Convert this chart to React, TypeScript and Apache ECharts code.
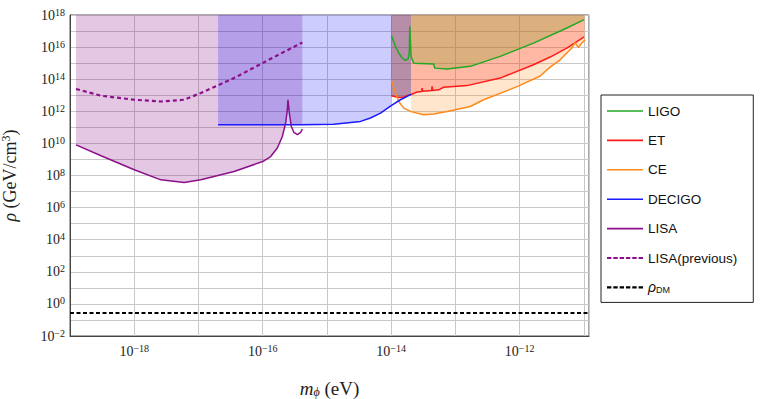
import React, { useEffect, useRef } from 'react';
import * as echarts from 'echarts';

// All values are log10(m_phi / eV), log10(rho / (GeV/cm^3))
const X_MIN = -19;
const X_MAX = -10.92;
const Y_MIN = -2;
const Y_MAX = 18;

// tick labels (exponents shown as 10^n)
const X_LABEL_EXP = [-18, -16, -14, -12];
const Y_LABEL_EXP = [-2, 0, 2, 4, 6, 8, 10, 12, 14, 16, 18];

// region boundaries (log10 m)
const DECIGO_FILL_END = -14.0;
const GROUND_FILL_START = -13.69;

const LIGO: [number, number][] = [
  [-13.995, 16.71], [-13.933, 16.04], [-13.882, 15.63], [-13.829, 15.32], [-13.778, 15.17],
  [-13.736, 15.26], [-13.718, 15.63], [-13.71, 17.29], [-13.69, 15.42], [-13.649, 15.0],
  [-13.338, 14.95], [-13.322, 14.69], [-13.13, 14.63], [-12.768, 14.8], [-12.302, 15.42],
  [-11.784, 16.25], [-11.265, 17.19], [-10.996, 17.71],
];

const ET: [number, number][] = [
  [-14.0, 12.97], [-13.9, 12.88], [-13.82, 12.86], [-13.751, 12.98], [-13.69, 13.05],
  [-13.596, 13.2], [-13.526, 13.24], [-13.518, 13.45], [-13.51, 13.25], [-13.37, 13.29],
  [-13.363, 13.55], [-13.355, 13.3], [-13.26, 13.34], [-13.183, 13.5], [-13.13, 13.52],
  [-12.819, 13.6], [-12.302, 14.07], [-11.784, 14.9], [-11.525, 15.38], [-11.265, 15.94],
  [-10.996, 16.63],
];

const CE: [number, number][] = [
  [-13.995, 13.9], [-13.933, 13.14], [-13.882, 12.61], [-13.804, 12.2], [-13.69, 11.98],
  [-13.493, 11.78], [-13.338, 11.83], [-13.13, 11.99], [-12.768, 12.3], [-12.561, 12.72],
  [-12.03, 13.55], [-11.68, 14.2], [-11.525, 14.75], [-11.37, 15.21], [-11.187, 15.94],
  [-11.14, 16.27], [-11.085, 15.98], [-11.032, 16.25], [-10.98, 16.46],
];

const DECIGO: [number, number][] = [
  [-16.695, 11.16], [-15.41, 11.16], [-14.892, 11.2], [-14.477, 11.37], [-14.322, 11.58],
  [-14.166, 11.89], [-14.0, 12.35], [-13.856, 12.72], [-13.69, 13.05],
];

const LISA: [number, number][] = [
  [-18.906, 9.91], [-18.516, 9.23], [-18.0, 8.36], [-17.585, 7.73], [-17.223, 7.56],
  [-16.963, 7.73], [-16.446, 8.25], [-16.0, 8.87], [-15.876, 9.18], [-15.772, 9.71],
  [-15.694, 10.43], [-15.643, 11.27], [-15.616, 12.1], [-15.607, 12.72], [-15.585, 11.89],
  [-15.554, 11.05], [-15.514, 10.68], [-15.461, 10.54], [-15.41, 10.68], [-15.383, 10.89],
];

const LISA_PREV: [number, number][] = [
  [-18.906, 13.39], [-18.516, 12.97], [-18.0, 12.72], [-17.585, 12.61], [-17.223, 12.72],
  [-16.963, 13.14], [-16.446, 14.07], [-16.0, 15.01], [-15.383, 16.29],
];

const RHO_DM = -0.57; // log10(0.27)

const NAMES = ['LIGO', 'ET', 'CE', 'DECIGO', 'LISA', 'LISA(previous)', 'ρDM'];
const COLORS = ['#22a822', '#ff1a1a', '#ff8a1a', '#1a1aff', '#8b108b', '#8b108b', '#000000'];
const DASHED = [false, false, false, false, false, true, true];

const SERIF = 'Liberation Serif';
const SANS = 'Liberation Sans';

function interpY(pts: [number, number][], x: number): number {
  if (x <= pts[0][0]) return pts[0][1];
  for (let i = 1; i < pts.length; i++) {
    if (x <= pts[i][0]) {
      const [x0, y0] = pts[i - 1];
      const [x1, y1] = pts[i];
      return y0 + ((y1 - y0) * (x - x0)) / (x1 - x0);
    }
  }
  return pts[pts.length - 1][1];
}

// legend icons: a thin bar, or six short dashes
function iconPath(dashed: boolean, h: number): string {
  if (!dashed) return `path://M0,0H36V${h}H0Z`;
  let d = 'path://';
  for (let i = 0; i < 6; i++) {
    const x0 = i * 6.3;
    d += `M${x0.toFixed(2)},0H${(x0 + 4.4).toFixed(2)}V${h}H${x0.toFixed(2)}Z`;
  }
  return d;
}

function buildOption() {
  let peakIdx = 0;
  LISA.forEach((p, i) => { if (p[1] > LISA[peakIdx][1]) peakIdx = i; });
  const lisaFill = LISA.map(([x, y], i) =>
    i > peakIdx ? [x, Math.max(y, interpY(DECIGO, x))] : [x, y]);
  const decigoFill = DECIGO.filter(([x]) => x <= DECIGO_FILL_END + 1e-9);
  const columnFill = ET.filter(([x]) => x <= GROUND_FILL_START + 1e-9);
  const ceFill = CE.filter(([x]) => x >= GROUND_FILL_START - 1e-9);
  const etFill = ET.filter(([x]) => x >= GROUND_FILL_START - 1e-9);
  const ligoFill = LIGO.filter(([x]) => x >= GROUND_FILL_START - 1e-9);

  const fill = (name: string, data: number[][], color: string) => ({
    name, type: 'line', data, symbol: 'none', silent: true,
    lineStyle: { width: 0 }, areaStyle: { origin: 'end', color, opacity: 1 },
  });
  const line = (idx: number, data: number[][], extra: any = {}) => ({
    name: NAMES[idx], type: 'line', data, symbol: 'none', showSymbol: false,
    color: COLORS[idx], itemStyle: { color: COLORS[idx], borderWidth: 0 },
    lineStyle: { color: COLORS[idx], width: 1.5, ...extra },
  });

  const supRich = {
    base: { fontFamily: SERIF, fontSize: 14, color: '#222', lineHeight: 16 },
    sup: { fontFamily: SERIF, fontSize: 10, color: '#222', lineHeight: 10, verticalAlign: 'top' },
  };
  const fmt = (allowed: number[]) => (v: number) => {
    const r = Math.round(v);
    if (Math.abs(v - r) > 1e-6 || !allowed.includes(r)) return '';
    return `{base|10}{sup|${r < 0 ? '−' + Math.abs(r) : r}}`;
  };
  const labelBase = { fontFamily: SERIF, fontSize: 14, color: '#222' };

  return {
    animation: false,
    grid: {
      left: 70, right: 174, top: 15, bottom: 63, containLabel: false, outerBoundsMode: 'none',
      show: true, borderColor: '#555', borderWidth: 1, backgroundColor: 'transparent',
    },
    xAxis: {
      type: 'value', min: X_MIN, max: X_MAX, interval: 1,
      axisLine: { show: true, onZero: false, lineStyle: { color: '#444' } },
      axisTick: { show: false },
      splitLine: { show: true, lineStyle: { color: '#c8c8c8', width: 1 } },
      axisLabel: { ...labelBase, formatter: fmt(X_LABEL_EXP), rich: supRich, margin: 7 },
      name: '{i|m}{sub|ϕ}{n| (eV)}', nameLocation: 'middle', nameGap: 42,
      nameTextStyle: {
        fontFamily: SERIF, fontSize: 18, color: '#222',
        rich: {
          i: { fontFamily: SERIF, fontSize: 19, fontStyle: 'italic', color: '#222', lineHeight: 20 },
          sub: { fontFamily: SERIF, fontSize: 12, fontStyle: 'italic', color: '#222', lineHeight: 10, verticalAlign: 'bottom' },
          n: { fontFamily: SERIF, fontSize: 19, color: '#222', lineHeight: 20 },
        },
      },
    },
    yAxis: {
      type: 'value', min: Y_MIN, max: Y_MAX, interval: 1,
      axisLine: { show: true, onZero: false, lineStyle: { color: '#444' } },
      axisTick: { show: false },
      splitLine: { show: true, lineStyle: { color: '#c8c8c8', width: 1 } },
      axisLabel: { ...labelBase, formatter: fmt(Y_LABEL_EXP), rich: supRich, margin: 5 },
      name: '{i|ρ}{n| (GeV/cm}{s|3}{n|)}', nameLocation: 'middle', nameGap: 50,
      nameTextStyle: {
        fontFamily: SERIF, fontSize: 18, color: '#222',
        rich: {
          i: { fontFamily: SERIF, fontSize: 18, fontStyle: 'italic', color: '#222', lineHeight: 20 },
          n: { fontFamily: SERIF, fontSize: 18, color: '#222', lineHeight: 20 },
          s: { fontFamily: SERIF, fontSize: 12, color: '#222', lineHeight: 12, verticalAlign: 'top' },
        },
      },
    },
    legend: {
      data: NAMES.map((n, i) => ({ name: n, icon: iconPath(DASHED[i], DASHED[i] ? 2.2 : 1.6) })),
      orient: 'vertical', left: 601, top: 95,
      itemWidth: 36, itemHeight: 14, itemGap: 15.4, symbolKeepAspect: true,
      itemStyle: { borderWidth: 0 },
      padding: [9, 16, 8, 6], borderColor: '#222', borderWidth: 1, borderRadius: 0,
      backgroundColor: '#fff', selectedMode: false,
      textStyle: {
        fontFamily: SANS, fontSize: 13.5, color: '#111',
        rich: {
          r: { fontFamily: SANS, fontSize: 14, fontStyle: 'italic', color: '#111' },
          d: { fontFamily: SANS, fontSize: 9, color: '#111', verticalAlign: 'bottom', lineHeight: 8 },
        },
      },
      formatter: (name: string) => (name === 'ρDM' ? '{r|ρ}{d|DM}' : name),
    },
    series: [
      fill('fill-LISA', lisaFill, 'rgba(128,0,128,0.22)'),
      fill('fill-DECIGO', decigoFill, 'rgba(0,0,255,0.2)'),
      fill('fill-column', columnFill, 'rgba(109,29,81,0.5)'),
      fill('fill-CE', ceFill, 'rgba(255,140,26,0.22)'),
      fill('fill-ET', etFill, 'rgba(255,0,0,0.2)'),
      fill('fill-LIGO', ligoFill, 'rgba(138,157,44,0.3)'),
      line(0, LIGO),
      line(1, ET),
      line(2, CE),
      line(3, DECIGO),
      line(4, LISA),
      line(5, LISA_PREV, { type: [4, 3], width: 2.2 }),
      line(6, [[X_MIN, RHO_DM], [X_MAX, RHO_DM]], { type: [4, 2.5], width: 2 }),
    ],
  };
}

export default function App() {
  const ref = useRef<HTMLDivElement>(null);
  useEffect(() => {
    if (!ref.current) return;
    const chart = echarts.init(ref.current, null, { renderer: 'svg' });
    chart.setOption(buildOption() as any);
    return () => chart.dispose();
  }, []);
  return (
    <div
      ref={ref}
      style={{ position: 'absolute', left: 0, top: 0, width: 763, height: 399, background: '#fff' }}
    />
  );
}
